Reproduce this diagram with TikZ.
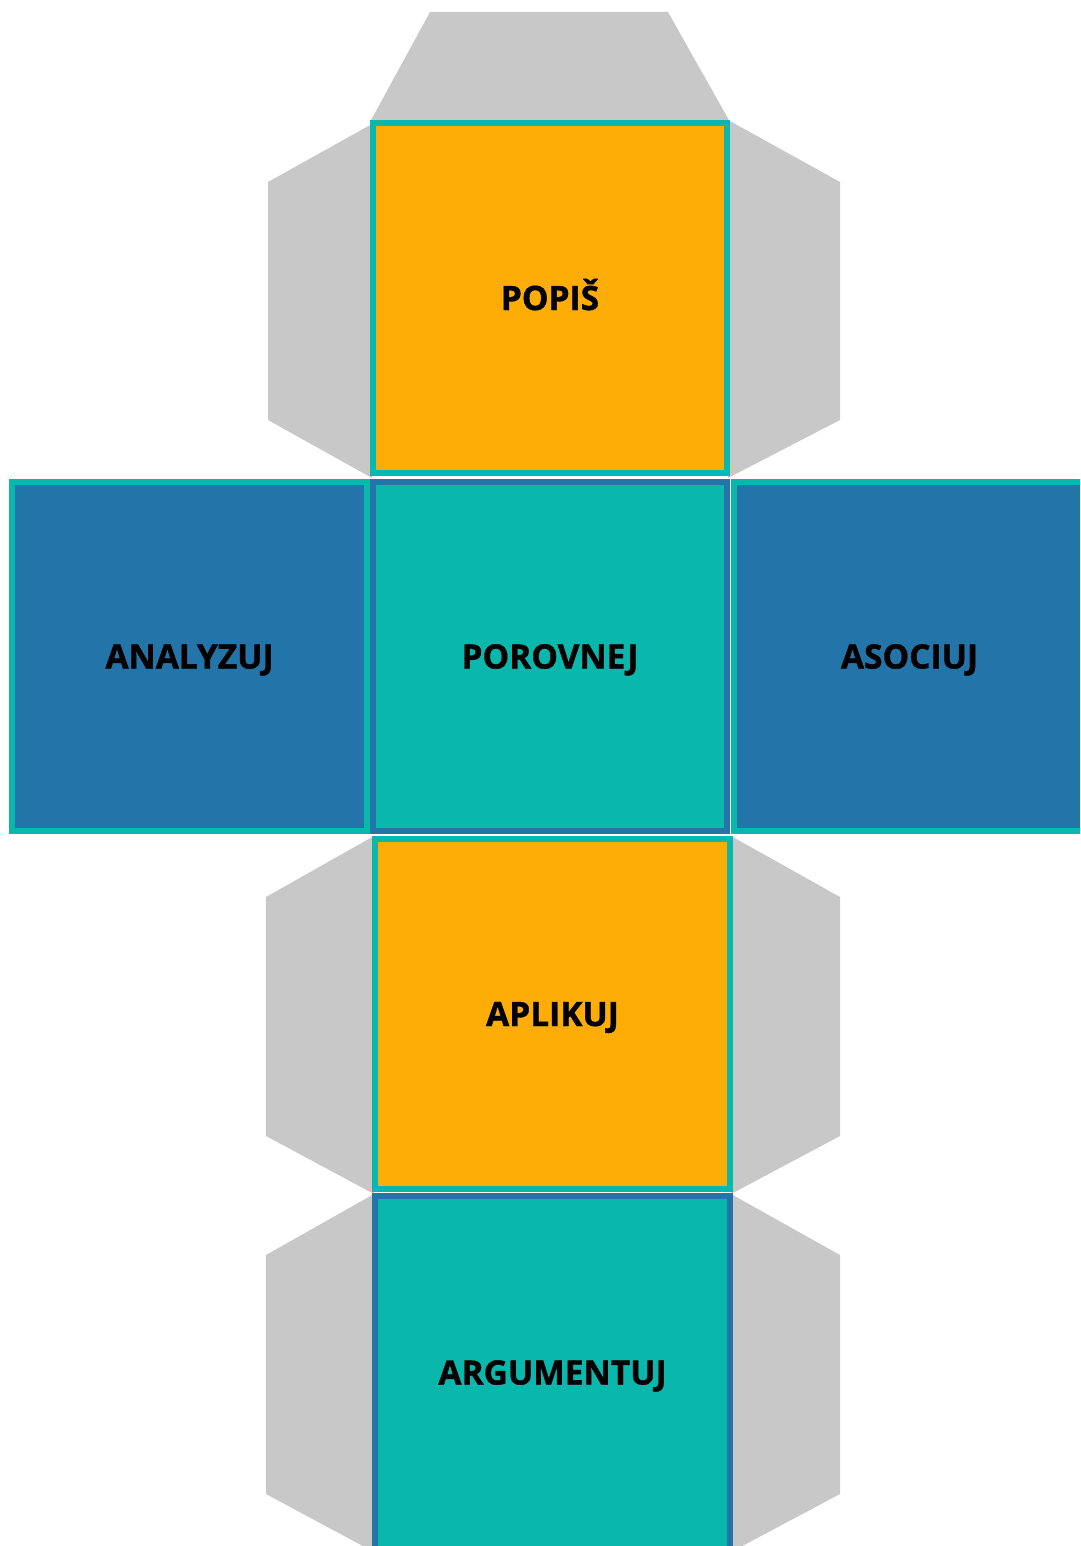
\documentclass[tikz,border=0pt]{standalone}
\usepackage{fontspec}
\setmainfont{Open Sans}[BoldFeatures={FakeBold=1.2}]
\definecolor{tabgray}{HTML}{C8C8C8}
\definecolor{cubeorange}{HTML}{FDAD06}
\definecolor{cubeteal}{HTML}{0AB7AD}
\definecolor{cubeblue}{HTML}{2274A9}
\tikzset{
  tab/.style={fill=tabgray, draw=none},
  face/.style={line width=6pt, inner sep=0pt, font=\fontsize{33.5}{40}\selectfont\bfseries, text=black, text height=24pt, text depth=0pt},
  orangeface/.style={face, fill=cubeorange, draw=cubeteal},
  tealface/.style={face, fill=cubeteal, draw=cubeblue},
  blueface/.style={face, fill=cubeblue, draw=cubeteal},
}
\begin{document}
\begin{tikzpicture}[x=1pt,y=-1pt]
\useasboundingbox (0,0) rectangle (1080,1546);
\begin{scope}
\clip (0,0) rectangle (1080,1546);
% tabs
\fill[tab] (430,12) -- (668,12) -- (730,122) -- (370,122) -- cycle;
\fill[tab] (372,124) -- (268,182) -- (268,420) -- (372,478) -- cycle;
\fill[tab] (728,120) -- (840,182) -- (840,420) -- (728,478) -- cycle;
\fill[tab] (374,836) -- (266,897) -- (266,1136) -- (374,1194) -- cycle;
\fill[tab] (731,836) -- (840,897) -- (840,1136) -- (731,1194) -- cycle;
\fill[tab] (374,1194) -- (266,1255) -- (266,1494) -- (374,1552) -- cycle;
\fill[tab] (731,1194) -- (840,1255) -- (840,1494) -- (731,1552) -- cycle;
% faces
\node[orangeface, minimum width=354pt, minimum height=350pt] (popis) at (550,298) {POPIŠ};
\node[blueface, minimum width=355pt, minimum height=349pt] (analyzuj) at (189.5,656.5) {ANALYZUJ};
\node[tealface, minimum width=354pt, minimum height=349pt] (porovnej) at (550,656.5) {POROVNEJ};
\node[blueface, minimum width=353pt, minimum height=349pt, text width=353pt, align=center] (asociuj) at (910.5,656.5) {\hspace*{-2pt}ASOCIUJ};
\node[orangeface, minimum width=355pt, minimum height=350pt] (aplikuj) at (552.5,1014) {APLIKUJ};
\node[tealface, minimum width=355pt, minimum height=353pt] (argumentuj) at (552.5,1372.5) {ARGUMENTUJ};
\end{scope}
\end{tikzpicture}
\end{document}
